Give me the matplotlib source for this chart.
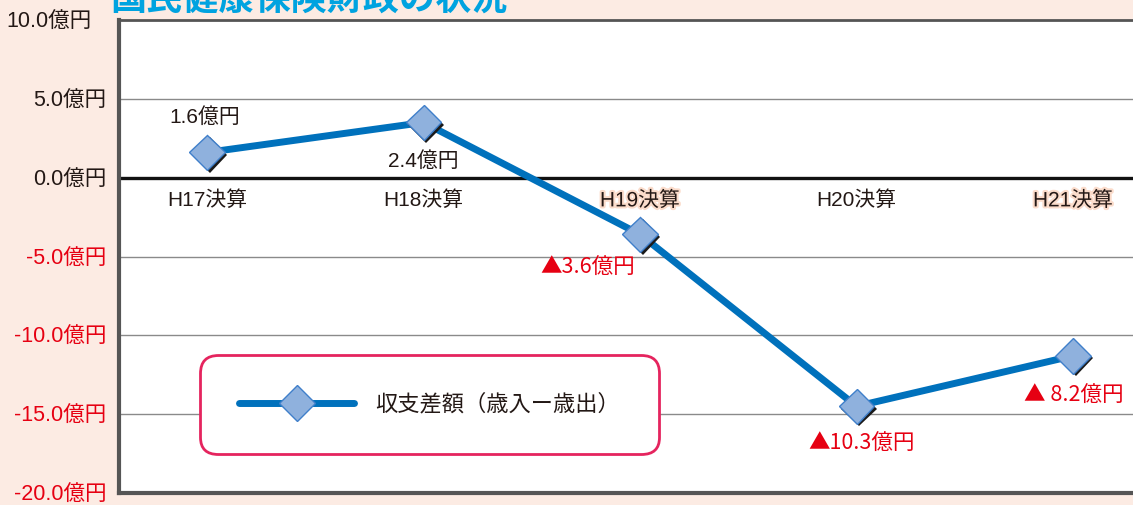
import matplotlib
matplotlib.use("Agg")
import matplotlib.pyplot as plt
import matplotlib.patheffects as pe
import matplotlib.transforms as mtransforms
from matplotlib.lines import Line2D

plt.rcParams['font.family'] = ['Liberation Sans', 'Noto Sans CJK JP', 'DejaVu Sans']

# data
categories = ['H17決算', 'H18決算', 'H19決算', 'H20決算', 'H21決算']
balance = [1.6, 3.5, -3.6, -14.5, -11.3]          # plotted positions as drawn
value_labels = ['1.6億円', '2.4億円', '▲3.6億円', '▲10.3億円', '▲ 8.2億円']
label_offsets = [(-2, 35), (0, -39), (-52, -34), (5, -38), (1, -40)]  # pixels
yticks = [10, 5, 0, -5, -10, -15, -20]
ytick_labels = ['10.0億円', '5.0億円', '0.0億円', '-5.0億円', '-10.0億円', '-15.0億円', '-20.0億円']
series_name = '収支差額（歳入ー歳出）'

bg = '#fcebe3'
red = '#e60012'
dark = '#231815'
blue = '#0071bc'
cjk = ['Noto Sans CJK JP', 'DejaVu Sans']

fig = plt.figure(figsize=(11.33, 5.05), dpi=100, facecolor=bg)
ax = fig.add_axes([119 / 1133, 12 / 505, 1 - 119 / 1133, (493 - 20) / 505])
ax.set_facecolor('white')

x = list(range(len(categories)))

# grid lines
for v in yticks[1:-1]:
    if v == 0:
        ax.axhline(v, color='#111111', lw=2.4, zorder=2)
    else:
        ax.axhline(v, color='#8a8a8a', lw=1.0, zorder=1)

# series line
ax.plot(x, balance, color=blue, lw=5, solid_capstyle='round', zorder=3)
ax.plot(x, balance, ls='none', marker='D', markersize=18,
        markerfacecolor='#8fb1dd', markeredgecolor='#3f7fca', markeredgewidth=1,
        zorder=4,
        path_effects=[pe.SimplePatchShadow(offset=(1.8, -1.8), shadow_rgbFace='#1a1a1a', alpha=1.0),
                      pe.Normal()])

# value labels
for xi, yi, lab, off in zip(x, balance, value_labels, label_offsets):
    neg = lab.startswith('▲')
    ax.annotate(lab, (xi, yi), xytext=off, textcoords='offset pixels',
                ha='center', va='center', fontsize=15.5 if neg else 15,
                color=red if neg else dark, family=cjk if neg else None, zorder=5)

# category labels under the zero line
for i, cat in enumerate(categories):
    t = ax.text(i, -1.45, cat, ha='center', va='center', fontsize=15, color=dark, zorder=5)
    if i in (2, 4):
        t.set_path_effects([pe.withStroke(linewidth=3, foreground='#fbdccb')])

ax.set_xlim(-0.4065, 4.277)
ax.set_ylim(-20, 10)
ax.set_xticks([])
ax.set_yticks(yticks)
ax.set_yticklabels(ytick_labels, fontsize=15.5)
for lab, v in zip(ax.get_yticklabels(), yticks):
    lab.set_color(red if v < 0 else dark)
ax.tick_params(axis='y', length=0, pad=9)
# top label sits a little further left in the original
top_lab = ax.get_yticklabels()[0]
top_lab.set_transform(top_lab.get_transform() +
                      mtransforms.ScaledTranslation(-15 / 100, 0, fig.dpi_scale_trans))

for side in ['left', 'bottom', 'top']:
    ax.spines[side].set_color('#555555')
ax.spines['left'].set_linewidth(3)
ax.spines['bottom'].set_linewidth(3)
ax.spines['top'].set_linewidth(2)
ax.spines['right'].set_visible(False)

# legend
handle = Line2D([0], [0], color=blue, lw=5, solid_capstyle='round', marker='D', markersize=18,
                markerfacecolor='#8fb1dd', markeredgecolor='#3f7fca', markeredgewidth=1)
leg = ax.legend([handle], [series_name], loc='upper left', bbox_to_anchor=(0.0799, 0.2918),
                borderaxespad=0, fontsize=16, handlelength=5.2, handletextpad=0.95, borderpad=1.75,
                fancybox=True, framealpha=1, edgecolor='#e5245e', labelcolor=dark)
leg.get_frame().set_linewidth(2)
leg.get_frame().set_boxstyle('round,pad=0,rounding_size=0.8')

# title (cropped at top)
fig.text(110 / 1133, 1 - 1 / 505, '国民健康保険財政の状況', fontsize=26, fontweight='bold',
         color='#00a3e0', ha='left', va='center')

fig.savefig('out.png', dpi=100, facecolor=bg)
